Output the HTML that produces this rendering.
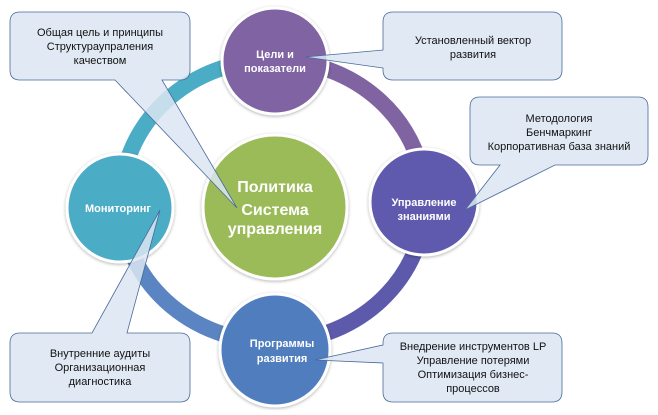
<!DOCTYPE html>
<html><head><meta charset="utf-8"><style>
body{margin:0;background:#fff;}
svg text{font-family:"Liberation Sans",sans-serif;}
</style></head><body>
<svg width="658" height="410" xmlns="http://www.w3.org/2000/svg">
<defs>
<filter id="sh" x="-20%" y="-20%" width="140%" height="140%"><feDropShadow dx="0" dy="1" stdDeviation="1.5" flood-color="#000" flood-opacity="0.3"/></filter>
</defs>
<g fill="none" stroke-width="16">
<path d="M121 201 A152 141 0 0 1 273 60" stroke="#4bacc6"/>
<path d="M273 60 A152 141 0 0 1 425 201" stroke="#8064a2"/>
<path d="M425 201 A152 141 0 0 1 273 342" stroke="#5d5aab"/>
<path d="M273 342 A152 141 0 0 1 121 201" stroke="#5b84c2"/>
</g>
<g stroke="#fff" stroke-width="3" filter="url(#sh)">
<circle cx="275" cy="207" r="72" fill="#9bbb59"/>
<ellipse cx="275" cy="61" rx="53" ry="53" fill="#8064a2"/>
<ellipse cx="424" cy="202" rx="54" ry="53" fill="#5f5aad"/>
<ellipse cx="275" cy="350" rx="55" ry="56" fill="#4f7dbd"/>
<ellipse cx="120" cy="208" rx="53" ry="54" fill="#4bacc6"/>
</g>
<g fill="#fff" font-weight="bold" text-anchor="middle">
<text x="275" y="192" font-size="16">Политика</text>
<text x="275" y="215" font-size="16">Система</text>
<text x="275" y="234" font-size="16">управления</text>
<text x="275" y="58" font-size="11">Цели и</text>
<text x="275" y="72" font-size="11">показатели</text>
<text x="424" y="206" font-size="11">Управление</text>
<text x="424" y="220" font-size="11">знаниями</text>
<text x="282" y="347" font-size="11">Программы</text>
<text x="282" y="362" font-size="11">развития</text>
<text x="118" y="212" font-size="11">Мониторинг</text>
</g>
<g fill="#dce6f2" fill-opacity="0.85" stroke="#4a6a9a" stroke-width="0.8">
<path d="M20 12 H180 Q190 12 190 22 V70 Q190 80 180 80 H162 L237 208 L115 80 H20 Q10 80 10 70 V22 Q10 12 20 12 Z"/>
<path d="M393 12 H552 Q562 12 562 22 V70 Q562 80 552 80 H393 Q383 80 383 70 V68 L305 57 L383 50 V22 Q383 12 393 12 Z"/>
<path d="M480 97 H638 Q648 97 648 107 V155 Q648 165 638 165 H555 L465 210 L500 165 H480 Q470 165 470 155 V107 Q470 97 480 97 Z"/>
<path d="M20 333 H92 L160 210 L127 333 H180 Q190 333 190 343 V392 Q190 402 180 402 H20 Q10 402 10 392 V343 Q10 333 20 333 Z"/>
<path d="M393 333 H552 Q562 333 562 343 V392 Q562 402 552 402 H393 Q383 402 383 392 V363 L315 360 L383 345 V343 Q383 333 393 333 Z"/>
</g>
<g fill="#111" font-size="11" text-anchor="middle">
<text x="100" y="36">Общая цель и принципы</text>
<text x="100" y="50">Структураупраления</text>
<text x="100" y="64">качеством</text>
<text x="473" y="44">Установленный вектор</text>
<text x="473" y="58">развития</text>
<text x="559" y="122">Методология</text>
<text x="559" y="136">Бенчмаркинг</text>
<text x="559" y="150">Корпоративная база знаний</text>
<text x="100" y="357">Внутренние аудиты</text>
<text x="100" y="371">Организационная</text>
<text x="100" y="385">диагностика</text>
<text x="473" y="350">Внедрение инструментов LP</text>
<text x="473" y="364">Управление потерями</text>
<text x="473" y="378">Оптимизация бизнес-</text>
<text x="473" y="392">процессов</text>
</g>
</svg>
</body></html>
